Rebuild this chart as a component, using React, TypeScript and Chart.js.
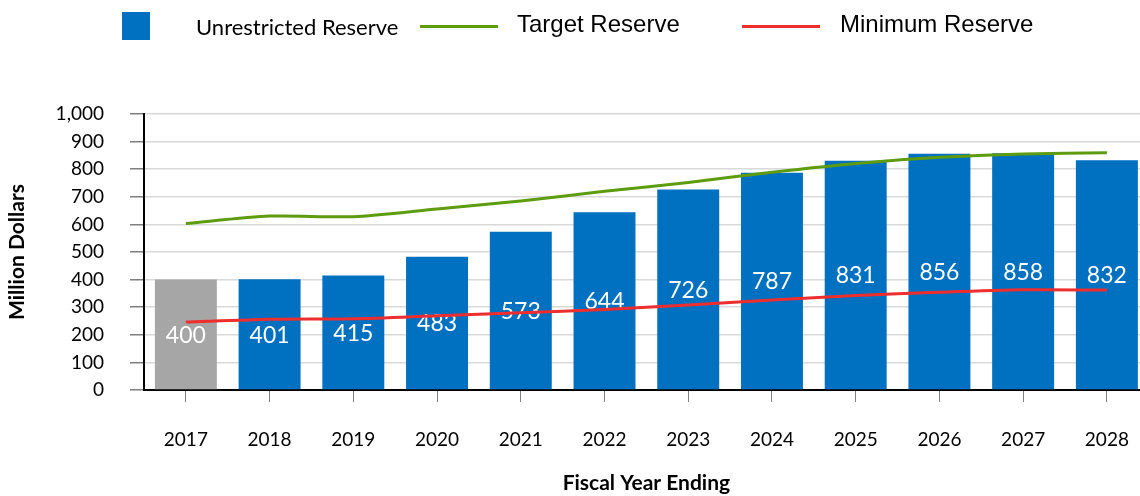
import React, { useEffect, useRef } from "react";
import { Chart, registerables } from "chart.js";

Chart.register(...registerables);

const categories = ["2017", "2018", "2019", "2020", "2021", "2022", "2023", "2024", "2025", "2026", "2027", "2028"];
const unrestricted = [400, 401, 415, 483, 573, 644, 726, 787, 831, 856, 858, 832];
const target = [603, 630, 628, 656, 685, 720, 752, 789, 821, 843, 855, 860];
const minimum = [246, 256, 258, 269, 280, 292, 308, 326, 342, 354, 363, 362];

const BLUE = "#0070C0";
const GRAY = "#A6A6A6";
const GREEN = "#5E9C0F";
const RED = "#EE2E2E";

const barLabels = {
  id: "barLabels",
  afterDatasetDraw(chart: any, args: any) {
    if (args.index !== 0) return;
    const { ctx } = chart;
    ctx.save();
    ctx.fillStyle = "#ffffff";
    ctx.font = "23px Lato";
    ctx.textAlign = "center";
    ctx.textBaseline = "middle";
    args.meta.data.forEach((el: any, i: number) => {
      const { x, y, base } = el.getProps(["x", "y", "base"], true);
      ctx.fillText(String(unrestricted[i]), x, (y + base) / 2 + 1);
    });
    ctx.restore();
  },
};

export default function App() {
  const ref = useRef<HTMLCanvasElement>(null);
  useEffect(() => {
    if (!ref.current) return;
    const chart = new Chart(ref.current, {
      type: "bar",
      data: {
        labels: categories,
        datasets: [
          {
            type: "bar",
            label: "Unrestricted Reserve",
            data: unrestricted,
            backgroundColor: unrestricted.map((_, i) => (i === 0 ? GRAY : BLUE)),
            barPercentage: 0.74,
            categoryPercentage: 1,
            order: 2,
          },
          {
            type: "line",
            label: "Target Reserve",
            data: target,
            borderColor: GREEN,
            borderWidth: 3,
            pointRadius: 0,
            tension: 0.25,
            order: 1,
          },
          {
            type: "line",
            label: "Minimum Reserve",
            data: minimum,
            borderColor: RED,
            borderWidth: 3,
            pointRadius: 0,
            tension: 0.25,
            order: 0,
          },
        ] as any,
      },
      options: {
        responsive: false,
        animation: false,
        layout: { padding: { left: 0, right: 2, top: 114, bottom: 0 } },
        plugins: { legend: { display: false }, tooltip: { enabled: false } },
        scales: {
          x: {
            grid: {
              display: true,
              drawOnChartArea: false,
              drawTicks: true,
              tickLength: 12,
              offset: false,
              tickColor: "#7F7F7F",
            },
            border: { color: "#000000", width: 2 },
            ticks: { color: "#000000", font: { family: "Lato", size: 19 }, padding: 26, maxRotation: 0 },
            title: {
              display: true,
              text: "Fiscal Year Ending",
              color: "#000000",
              font: { family: "Lato", size: 21, weight: "bold" },
              padding: { top: 0, bottom: 0 },
            },
            afterFit(scale: any) {
              scale.height = 106;
            },
          },
          y: {
            min: 0,
            max: 1000,
            grid: { color: "#D9D9D9", lineWidth: 1.5, tickLength: 14, tickColor: "#7F7F7F" },
            border: { color: "#000000", width: 2 },
            ticks: {
              stepSize: 100,
              color: "#000000",
              font: { family: "Lato", size: 19 },
              padding: 26,
              callback: (v: any) => Number(v).toLocaleString("en-US"),
            },
            title: {
              display: true,
              text: "Million Dollars",
              color: "#000000",
              font: { family: "Lato", size: 21, weight: "bold" },
              padding: { top: 5, bottom: 0 },
            },
            afterFit(scale: any) {
              scale.width = 144;
            },
          },
        },
      },
      plugins: [barLabels],
    });
    return () => chart.destroy();
  }, []);

  const legendText: React.CSSProperties = { position: "absolute", color: "#000", whiteSpace: "nowrap", lineHeight: 1 };

  return (
    <div style={{ position: "fixed", left: 0, top: 0, width: 1140, height: 496, overflow: "hidden", background: "#fff" }}>
      <canvas ref={ref} width={1155} height={496} style={{ position: "absolute", left: 0, top: 0 }} />
      <div style={{ position: "absolute", left: 122, top: 12, width: 28, height: 28, background: BLUE }} />
      <div style={{ ...legendText, left: 196, top: 16, fontFamily: "Lato", fontSize: 22 }}>Unrestricted Reserve</div>
      <div style={{ position: "absolute", left: 420, top: 25, width: 78, height: 3, background: GREEN }} />
      <div style={{ ...legendText, left: 517, top: 12, fontFamily: "Liberation Sans", fontSize: 24 }}>Target Reserve</div>
      <div style={{ position: "absolute", left: 742, top: 25, width: 78, height: 3, background: RED }} />
      <div style={{ ...legendText, left: 840, top: 12, fontFamily: "Liberation Sans", fontSize: 24 }}>Minimum Reserve</div>
    </div>
  );
}
